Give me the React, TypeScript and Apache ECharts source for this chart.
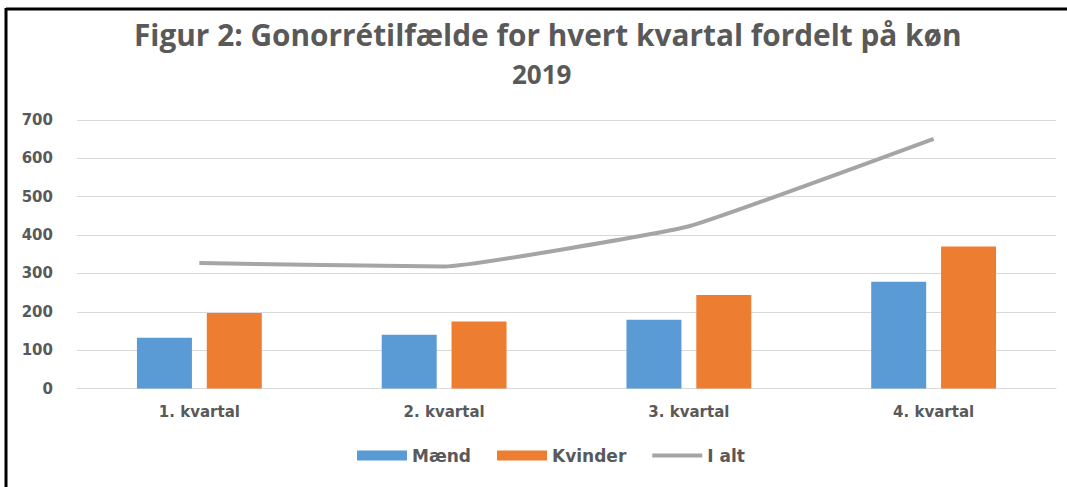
import React, { useEffect, useRef } from "react";
import * as echarts from "echarts";

const categories = ["1. kvartal", "2. kvartal", "3. kvartal", "4. kvartal"];
const maend = [132, 140, 179, 278];
const kvinder = [197, 175, 244, 370];
const iAlt = [327, 318, 423, 651];
const yTicks = [0, 100, 200, 300, 400, 500, 600, 700];
const titleLines = ["Figur 2: Gonorrétilfælde for hvert kvartal fordelt på køn", "2019"];

const TEXT = "#595959";
const AXIS_FONT = "'DejaVu Sans', sans-serif";
const TITLE_FONT = "'Open Sans', sans-serif";

export default function App() {
  const ref = useRef<HTMLDivElement>(null);
  useEffect(() => {
    if (!ref.current) return;
    const chart = echarts.init(ref.current, undefined, { renderer: "svg" });
    chart.setOption({
      animation: false,
      backgroundColor: "#ffffff",
      title: [
        {
          text: titleLines[0],
          left: 134,
          top: 17,
          padding: 0,
          textStyle: { fontFamily: TITLE_FONT, fontWeight: "bold", fontSize: 29.8, color: TEXT, lineHeight: 34 },
        },
        {
          text: titleLines[1],
          left: 512,
          top: 59,
          padding: 0,
          textStyle: { fontFamily: TITLE_FONT, fontWeight: "bold", fontSize: 26, color: TEXT, lineHeight: 30 },
        },
      ],
      graphic: [
        { type: "line", shape: { x1: 6, y1: 9, x2: 1067, y2: 9 }, style: { stroke: "#000", lineWidth: 3 } },
        { type: "line", shape: { x1: 6, y1: 8, x2: 6, y2: 487 }, style: { stroke: "#000", lineWidth: 3 } },
      ],
      legend: {
        bottom: 18,
        left: 352,
        itemWidth: 50,
        itemHeight: 10,
        itemGap: 26,
        textStyle: { fontFamily: AXIS_FONT, fontWeight: "bold", fontSize: 17, color: TEXT },
        data: [
          { name: "Mænd", icon: "rect" },
          { name: "Kvinder", icon: "rect" },
          { name: "I alt", icon: "path://M0,0 L50,0 L50,4 L0,4 Z", itemStyle: { color: "#A5A5A5" } },
        ],
      },
      grid: { left: 77, right: 11, top: 120, bottom: 98.5, containLabel: false },
      xAxis: {
        type: "category",
        data: categories,
        axisLine: { lineStyle: { color: "#D9D9D9", width: 1 } },
        axisTick: { show: false },
        axisLabel: { fontFamily: AXIS_FONT, fontWeight: "bold", fontSize: 15, color: TEXT, margin: 16 },
      },
      yAxis: {
        type: "value",
        min: yTicks[0],
        max: yTicks[yTicks.length - 1],
        interval: 100,
        axisLine: { show: false },
        axisTick: { show: false },
        splitLine: { lineStyle: { color: "#D9D9D9", width: 1 } },
        axisLabel: { fontFamily: AXIS_FONT, fontWeight: "bold", fontSize: 15, color: TEXT, margin: 24 },
      },
      series: [
        {
          name: "Mænd",
          type: "bar",
          data: maend,
          barWidth: 55,
          barGap: "27%",
          itemStyle: { color: "#5B9BD5" },
        },
        {
          name: "Kvinder",
          type: "bar",
          data: kvinder,
          barWidth: 55,
          barGap: "27%",
          itemStyle: { color: "#ED7D31" },
        },
        {
          name: "I alt",
          type: "line",
          data: iAlt,
          symbol: "none",
          smooth: 0.1,
          lineStyle: { color: "#A5A5A5", width: 4 },
          itemStyle: { color: "#A5A5A5" },
        },
      ],
    });
    return () => chart.dispose();
  }, []);
  return (
    <div
      ref={ref}
      style={{ position: "fixed", left: 0, top: 0, width: 1067, height: 487, background: "#fff" }}
    />
  );
}
